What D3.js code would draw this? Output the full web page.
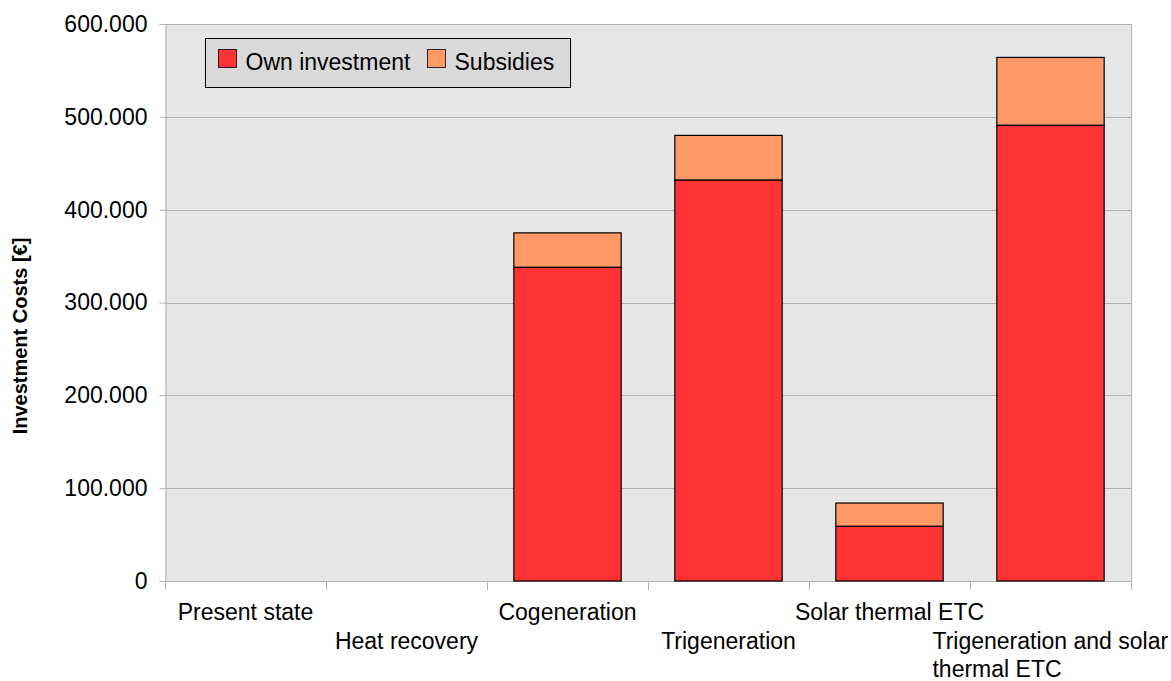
<!DOCTYPE html>
<html>
<head>
<meta charset="utf-8">
<script src="https://cdn.jsdelivr.net/npm/d3@7"></script>
<style>
  html, body { margin: 0; padding: 0; background: #ffffff; }
  svg { display: block; font-family: "Liberation Sans", Arial, sans-serif; }
</style>
</head>
<body>
<svg id="chart" width="1171" height="681"></svg>
<script>
// Scenario names and investment split (€)
const categories = ["Present state", "Heat recovery", "Cogeneration", "Trigeneration", "Solar thermal ETC", "Trigeneration and solar thermal ETC"];
const ownInvestment = [0, 0, 338000, 432000, 59000, 491000];
const subsidies = [0, 0, 37000, 48000, 25000, 73000];
const seriesNames = ["Own investment", "Subsidies"];
const yTicks = [0, 100000, 200000, 300000, 400000, 500000, 600000];

const colors = ["#ff3333", "#ff9966"];
const margin = { left: 165, right: 40, top: 24, bottom: 100 };
const W = 1171, H = 681;
const FS = 23;
const svg = d3.select("#chart");

const x = d3.scaleBand().domain(categories).range([margin.left, W - margin.right]).paddingInner(0).paddingOuter(0);
const y = d3.scaleLinear().domain([0, 600000]).range([H - margin.bottom, margin.top]);

const fmt = v => v === 0 ? "0" : d3.format(",.0f")(v).replace(/,/g, ".");

// Plot background
svg.append("rect")
  .attr("x", margin.left).attr("y", margin.top)
  .attr("width", x.range()[1] - margin.left)
  .attr("height", y(0) - margin.top)
  .attr("fill", "#e6e6e6");

// Horizontal gridlines
svg.append("g").selectAll("line").data(yTicks.filter(d => d > 0)).join("line")
  .attr("x1", margin.left).attr("x2", x.range()[1])
  .attr("y1", d => Math.round(y(d)) + 0.5).attr("y2", d => Math.round(y(d)) + 0.5)
  .attr("stroke", "#b3b3b3").attr("stroke-width", 1);

// Y axis
const yAxis = svg.append("g")
  .attr("transform", `translate(${margin.left + 0.5},0)`)
  .call(d3.axisLeft(y).tickValues(yTicks).tickFormat(fmt).tickSize(6).tickPadding(12));
yAxis.select(".domain").attr("stroke", "#b3b3b3");
yAxis.selectAll(".tick line").attr("stroke", "#b3b3b3");
yAxis.selectAll(".tick text").attr("font-size", FS).attr("fill", "#000").attr("font-family", "'Liberation Sans', Arial, sans-serif");

// X axis baseline and category separators
const xg = svg.append("g");
xg.append("line")
  .attr("x1", margin.left).attr("x2", x.range()[1])
  .attr("y1", Math.round(y(0)) + 0.5).attr("y2", Math.round(y(0)) + 0.5)
  .attr("stroke", "#b3b3b3");
const bounds = categories.map(c => x(c)).concat([x.range()[1]]);
xg.selectAll("line.sep").data(bounds).join("line")
  .attr("class", "sep")
  .attr("x1", d => Math.round(d) + 0.5).attr("x2", d => Math.round(d) + 0.5)
  .attr("y1", y(0)).attr("y2", y(0) + 9)
  .attr("stroke", "#b3b3b3");
// right plot border
xg.append("line")
  .attr("x1", Math.round(x.range()[1]) + 0.5).attr("x2", Math.round(x.range()[1]) + 0.5)
  .attr("y1", margin.top).attr("y2", y(0))
  .attr("stroke", "#b3b3b3");

// Category labels, staggered on two rows
const labelLines = {
  "Trigeneration and solar thermal ETC": ["Trigeneration and solar", "thermal ETC"]
};
categories.forEach((c, i) => {
  const lines = labelLines[c] || [c];
  const cx = x(c) + x.bandwidth() / 2;
  const baseY = y(0) + (i % 2 === 0 ? 39 : 68);
  const t = svg.append("text")
    .attr("font-size", FS).attr("fill", "#000");
  lines.forEach((ln, k) => {
    t.append("tspan").attr("x", cx).attr("y", baseY + k * 28).text(ln);
  });
  if (lines.length > 1) {
    // left-align wrapped lines within a centred block
    const w = t.node().getBBox().width;
    t.selectAll("tspan").attr("x", cx - w / 2);
  } else {
    t.attr("text-anchor", "middle");
  }
});

// Stacked bars
const stackData = categories.map((c, i) => ({ cat: c, own: ownInvestment[i], sub: subsidies[i] }));
const stacked = d3.stack().keys(["own", "sub"])(stackData);
const barW = x.bandwidth() * 2 / 3;
svg.append("g").selectAll("g").data(stacked).join("g")
  .attr("fill", (d, i) => colors[i])
  .selectAll("rect").data(d => d.filter(p => p[1] > p[0])).join("rect")
  .attr("x", d => x(d.data.cat) + (x.bandwidth() - barW) / 2)
  .attr("y", d => y(d[1]))
  .attr("width", barW)
  .attr("height", d => y(d[0]) - y(d[1]))
  .attr("stroke", "#000").attr("stroke-width", 1.2);

// Y axis title, centred on the plot plus its category labels
svg.append("text")
  .attr("transform", `translate(27,336) rotate(-90)`)
  .attr("text-anchor", "middle")
  .attr("font-size", 20).attr("font-weight", "bold").attr("fill", "#000")
  .text("Investment Costs [€]");

// Legend
const lg = svg.append("g").attr("transform", "translate(205.5,38.5)");
lg.append("rect").attr("width", 365).attr("height", 49)
  .attr("fill", "#d9d9d9").attr("stroke", "#000").attr("stroke-width", 1);
const items = [{ x: 13, name: seriesNames[0], c: colors[0] }, { x: 222, name: seriesNames[1], c: colors[1] }];
items.forEach(it => {
  lg.append("rect").attr("x", it.x).attr("y", 11).attr("width", 18).attr("height", 18)
    .attr("fill", it.c).attr("stroke", "#000").attr("stroke-width", 0.8);
  lg.append("text").attr("x", it.x + 27).attr("y", 31).attr("font-size", FS).attr("fill", "#000").text(it.name);
});
</script>
</body>
</html>
